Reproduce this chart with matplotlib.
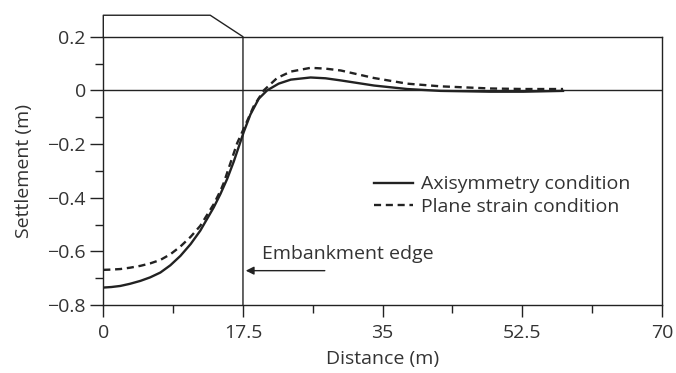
import numpy as np
import matplotlib.pyplot as plt
from matplotlib.ticker import MultipleLocator, FixedLocator

plt.rcParams['font.family'] = ['Open Sans', 'DejaVu Sans']
plt.rcParams['font.size'] = 14

# settlement profiles
dist_axi = [0, 1.01, 2.13, 3.34, 4.66, 5.87, 7.15, 8.4, 9.66, 10.94, 12.15, 13.84, 14.68,
            15.52, 16.35, 17.6, 18.43, 19.48, 20.53, 21.97, 23.49, 25.97, 27.84, 29.77,
            33.92, 38.07, 42.27, 48.5, 52.65, 57.6]
sett_axi = [-0.735, -0.733, -0.729, -0.721, -0.710, -0.697, -0.679, -0.652, -0.617, -0.573,
            -0.523, -0.436, -0.386, -0.330, -0.265, -0.155, -0.090, -0.031, 0.0, 0.025,
            0.040, 0.048, 0.045, 0.037, 0.018, 0.005, -0.002, -0.005, -0.005, -0.002]

dist_ps = [0, 1.01, 2.13, 3.34, 4.66, 5.87, 7.15, 8.4, 9.66, 10.94, 12.15, 13.84, 14.68,
           15.09, 16.77, 17.82, 18.83, 20.11, 21.77, 23.49, 25.97, 27.84, 29.77, 33.92,
           38.07, 42.27, 48.5, 52.65, 57.6]
sett_ps = [-0.669, -0.668, -0.666, -0.661, -0.654, -0.645, -0.632, -0.611, -0.582, -0.546,
           -0.505, -0.424, -0.374, -0.345, -0.197, -0.128, -0.060, 0.0, 0.046, 0.070,
           0.084, 0.081, 0.074, 0.046, 0.025, 0.015, 0.007, 0.005, 0.005]

# embankment outline
emb_x = [0, 0, 13.4, 17.5, 17.5]
emb_y = [0.2, 0.28, 0.28, 0.2, -0.8]

xticks = [0, 17.5, 35, 52.5, 70]
xlabels = ['0', '17.5', '35', '52.5', '70']
yticks = [-0.8, -0.6, -0.4, -0.2, 0, 0.2]
ylabels = ['\u22120.8', '\u22120.6', '\u22120.4', '\u22120.2', '0', '0.2']

ink = '#222222'
txt = '#333333'

fig = plt.figure(figsize=(6.76, 3.73), dpi=100)
ax = fig.add_axes([0.1528, 0.1823, 0.8265, 0.7193])

ax.plot(emb_x, emb_y, color=ink, lw=1.0, clip_on=False, zorder=3)
ax.axhline(0, color=ink, lw=1.0, zorder=2)

ax.plot(dist_axi, sett_axi, color=ink, lw=1.7, label='Axisymmetry condition')
ax.plot(dist_ps, sett_ps, color=ink, lw=1.7, ls=(0, (3, 2)), label='Plane strain condition')

ax.set_xlim(0, 70)
ax.set_ylim(-0.8, 0.2)
ax.set_xticks(xticks)
ax.set_xticklabels(xlabels)
ax.set_yticks(yticks)
ax.set_yticklabels(ylabels)
ax.xaxis.set_minor_locator(FixedLocator([8.75, 26.25, 43.75, 61.25]))
ax.yaxis.set_minor_locator(MultipleLocator(0.1))

ax.tick_params(which='major', direction='out', length=9.5, width=1.0, color=ink,
               labelcolor=txt, labelsize=14)
ax.tick_params(axis='x', which='major', length=8.5, pad=5)
ax.tick_params(axis='y', which='major', pad=3)
ax.tick_params(which='minor', direction='out', length=6, width=1.0, color=ink)

for s in ax.spines.values():
    s.set_color(ink)
    s.set_linewidth(1.0)

ax.set_xlabel('Distance (m)', color=txt, fontsize=14, labelpad=6)
ax.set_ylabel('Settlement (m)', color=txt, fontsize=14, labelpad=10)

ax.annotate('', xy=(17.5, -0.672), xytext=(28.1, -0.672),
            arrowprops=dict(arrowstyle='-|>', color=ink, lw=1.0, mutation_scale=12))
ax.text(19.9, -0.61, 'Embankment edge', color=txt, fontsize=14, va='center')

leg = ax.legend(loc='center right', bbox_to_anchor=(0.975, 0.408), frameon=False,
                handlelength=2.0, handletextpad=0.4, labelspacing=0.22, fontsize=14)
for t in leg.get_texts():
    t.set_color(txt)

fig.savefig('out.png', dpi=100)
